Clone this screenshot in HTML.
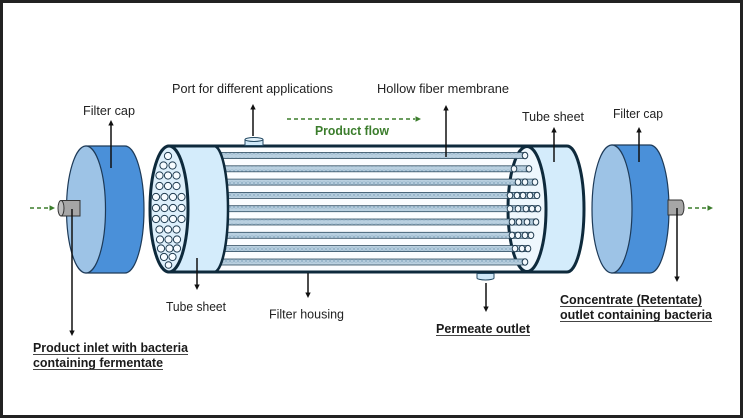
<!DOCTYPE html>
<html>
<head>
<meta charset="utf-8">
<style>
  html,body{margin:0;padding:0;background:#fff;}
  body{width:743px;height:418px;overflow:hidden;}
  svg{display:block;}
  text{font-family:"Liberation Sans",Arial,sans-serif;}
</style>
</head>
<body>
<svg width="743" height="418" viewBox="0 0 743 418" xmlns="http://www.w3.org/2000/svg">
  <defs>
    <pattern id="fib" x="0" y="0" width="4" height="6" patternUnits="userSpaceOnUse">
      <rect width="4" height="6" fill="#b9d0e0"/>
      <path d="M0.5,1.5 L3.5,4.5 M3.5,1.5 L0.5,4.5" stroke="#8eaec4" stroke-width="0.7"/>
    </pattern>
  </defs>

  <!-- frame -->
  <rect x="1.5" y="1.5" width="740" height="415" fill="#fff" stroke="#222" stroke-width="3"/>

  <!-- ===== Left filter cap ===== -->
  <path d="M86,146 L125,146 A19,63.5 0 0 1 125,273 L86,273 Z" fill="#4a90d9" stroke="#1d3a58" stroke-width="1.2"/>
  <ellipse cx="86" cy="209.5" rx="19.5" ry="63.5" fill="#9dc3e6" stroke="#1d3a58" stroke-width="1.2"/>
  <!-- left nozzle -->
  <rect x="61" y="200.5" width="19" height="15.5" fill="#a6a6a6" stroke="#333" stroke-width="1"/>
  <ellipse cx="61" cy="208.2" rx="3" ry="7.7" fill="#bdbdbd" stroke="#333" stroke-width="1"/>

  <!-- ===== Right filter cap ===== -->
  <path d="M612,145 L650,145 A19,64 0 0 1 650,273 L612,273 Z" fill="#4a90d9" stroke="#1d3a58" stroke-width="1.2"/>
  <ellipse cx="612" cy="209" rx="20" ry="64" fill="#9dc3e6" stroke="#1d3a58" stroke-width="1.2"/>
  <!-- right nozzle -->
  <path d="M668,200 L681,200 A3,7.5 0 0 1 681,215 L668,215 Z" fill="#a6a6a6" stroke="#333" stroke-width="1"/>

  <!-- ===== Housing ===== -->
  <path d="M169,146 L567,146 A17,63 0 0 1 567,272 L169,272 Z" fill="#d4ecfb" stroke="#0e2a3c" stroke-width="3"/>
  <!-- fibre area -->
  <rect x="195" y="147.5" width="332" height="123" fill="#fbfdff"/>
  <!-- right tube sheet face -->
  <ellipse cx="527" cy="209" rx="19" ry="62.5" fill="#eef7fd" stroke="#0e2a3c" stroke-width="3"/>

  <!-- fibres -->
  <g stroke="#2f4c60" stroke-width="0.8" fill="url(#fib)">
    <rect x="205" y="152.5" width="320" height="6"/>
    <rect x="205" y="165.8" width="324" height="6"/>
    <rect x="205" y="179.1" width="330" height="6"/>
    <rect x="205" y="192.4" width="332" height="6"/>
    <rect x="205" y="205.7" width="333" height="6"/>
    <rect x="205" y="219" width="331" height="6"/>
    <rect x="205" y="232.3" width="326" height="6"/>
    <rect x="205" y="245.6" width="323" height="6"/>
    <rect x="205" y="259" width="320" height="6"/>
  </g>
  <!-- fibre ends -->
  <g fill="#f2f8fc" stroke="#1e3a4e" stroke-width="1">
    <ellipse cx="525" cy="155.5" rx="2.8" ry="3.2"/>
    <ellipse cx="514" cy="168.8" rx="2.8" ry="3.2"/>
    <ellipse cx="529" cy="168.8" rx="2.8" ry="3.2"/>
    <ellipse cx="518" cy="182.1" rx="2.8" ry="3.2"/>
    <ellipse cx="525" cy="182.1" rx="2.8" ry="3.2"/>
    <ellipse cx="535" cy="182.1" rx="2.8" ry="3.2"/>
    <ellipse cx="510" cy="195.4" rx="2.8" ry="3.2"/>
    <ellipse cx="517" cy="195.4" rx="2.8" ry="3.2"/>
    <ellipse cx="523" cy="195.4" rx="2.8" ry="3.2"/>
    <ellipse cx="530" cy="195.4" rx="2.8" ry="3.2"/>
    <ellipse cx="537" cy="195.4" rx="2.8" ry="3.2"/>
    <ellipse cx="510" cy="208.7" rx="2.8" ry="3.2"/>
    <ellipse cx="518" cy="208.7" rx="2.8" ry="3.2"/>
    <ellipse cx="526" cy="208.7" rx="2.8" ry="3.2"/>
    <ellipse cx="532" cy="208.7" rx="2.8" ry="3.2"/>
    <ellipse cx="538" cy="208.7" rx="2.8" ry="3.2"/>
    <ellipse cx="512" cy="222" rx="2.8" ry="3.2"/>
    <ellipse cx="519" cy="222" rx="2.8" ry="3.2"/>
    <ellipse cx="527" cy="222" rx="2.8" ry="3.2"/>
    <ellipse cx="536" cy="222" rx="2.8" ry="3.2"/>
    <ellipse cx="512" cy="235.3" rx="2.8" ry="3.2"/>
    <ellipse cx="518" cy="235.3" rx="2.8" ry="3.2"/>
    <ellipse cx="525" cy="235.3" rx="2.8" ry="3.2"/>
    <ellipse cx="531" cy="235.3" rx="2.8" ry="3.2"/>
    <ellipse cx="515" cy="248.6" rx="2.8" ry="3.2"/>
    <ellipse cx="522" cy="248.6" rx="2.8" ry="3.2"/>
    <ellipse cx="528" cy="248.6" rx="2.8" ry="3.2"/>
    <ellipse cx="525" cy="262" rx="2.8" ry="3.2"/>
  </g>

  <!-- left tube sheet band -->
  <path d="M169,146 L214,146 A14,63 0 0 1 214,272 L169,272 Z" fill="#d4ecfb" stroke="#0e2a3c" stroke-width="2.5"/>
  <!-- left tube sheet face with holes -->
  <ellipse cx="169" cy="209" rx="19" ry="63" fill="#ddeffb" stroke="#0e2a3c" stroke-width="3"/>
  <g fill="#f6fbff" stroke="#1f3b50" stroke-width="1">
    <circle cx="168" cy="156" r="3.6"/>
    <circle cx="163.5" cy="165.5" r="3.6"/><circle cx="172.5" cy="165.5" r="3.6"/>
    <circle cx="159.5" cy="175.5" r="3.6"/><circle cx="168" cy="175.5" r="3.6"/><circle cx="176.5" cy="175.5" r="3.6"/>
    <circle cx="159.5" cy="186" r="3.6"/><circle cx="168" cy="186" r="3.6"/><circle cx="176.5" cy="186" r="3.6"/>
    <circle cx="156" cy="197" r="3.6"/><circle cx="164.5" cy="197" r="3.6"/><circle cx="173" cy="197" r="3.6"/><circle cx="181.5" cy="197" r="3.6"/>
    <circle cx="156" cy="208" r="3.6"/><circle cx="164.5" cy="208" r="3.6"/><circle cx="173" cy="208" r="3.6"/><circle cx="181.5" cy="208" r="3.6"/>
    <circle cx="156" cy="219" r="3.6"/><circle cx="164.5" cy="219" r="3.6"/><circle cx="173" cy="219" r="3.6"/><circle cx="181.5" cy="219" r="3.6"/>
    <circle cx="159.5" cy="229.5" r="3.6"/><circle cx="168" cy="229.5" r="3.6"/><circle cx="176.5" cy="229.5" r="3.6"/>
    <circle cx="160" cy="239.5" r="3.6"/><circle cx="168.5" cy="239.5" r="3.6"/><circle cx="177" cy="239.5" r="3.6"/>
    <circle cx="161" cy="248.5" r="3.6"/><circle cx="169.5" cy="248.5" r="3.6"/><circle cx="177" cy="248.5" r="3.6"/>
    <circle cx="164" cy="257" r="3.6"/><circle cx="172.5" cy="257" r="3.6"/>
    <circle cx="168.5" cy="265" r="3.3"/>
  </g>

  <!-- housing top/bottom lines redrawn -->
  <line x1="169" y1="146" x2="567" y2="146" stroke="#0e2a3c" stroke-width="3"/>
  <line x1="169" y1="272" x2="567" y2="272" stroke="#0e2a3c" stroke-width="3"/>

  <!-- top port -->
  <rect x="245" y="139.5" width="18" height="6" fill="#cfe8f8" stroke="#244a63" stroke-width="1"/>
  <ellipse cx="254" cy="139.5" rx="9" ry="2" fill="#e3f2fb" stroke="#244a63" stroke-width="1"/>
  <!-- permeate port -->
  <path d="M477,273.5 L494,273.5 L494,278 A8.5,2 0 0 1 477,278 Z" fill="#cfe8f8" stroke="#244a63" stroke-width="1"/>

  <!-- ===== black arrows ===== -->
  <g stroke="#111" stroke-width="1.5">
    <line x1="111" y1="168" x2="111" y2="124"/>
    <line x1="253" y1="136" x2="253" y2="108"/>
    <line x1="446" y1="157" x2="446" y2="109"/>
    <line x1="554" y1="162" x2="554" y2="131"/>
    <line x1="639" y1="162" x2="639" y2="131"/>
    <line x1="72" y1="209" x2="72" y2="332"/>
    <line x1="197" y1="258" x2="197" y2="286"/>
    <line x1="308" y1="273" x2="308" y2="294"/>
    <line x1="486" y1="283" x2="486" y2="308"/>
    <line x1="677" y1="208" x2="677" y2="278"/>
  </g>
  <g fill="#111">
    <polygon points="111,120 108.3,125.5 113.7,125.5"/>
    <polygon points="253,104 250.3,109.5 255.7,109.5"/>
    <polygon points="446,105 443.3,110.5 448.7,110.5"/>
    <polygon points="554,127 551.3,132.5 556.7,132.5"/>
    <polygon points="639,127 636.3,132.5 641.7,132.5"/>
    <polygon points="72,336 69.3,330.5 74.7,330.5"/>
    <polygon points="197,290 194.3,284.5 199.7,284.5"/>
    <polygon points="308,298 305.3,292.5 310.7,292.5"/>
    <polygon points="486,312 483.3,306.5 488.7,306.5"/>
    <polygon points="677,282 674.3,276.5 679.7,276.5"/>
  </g>

  <!-- ===== green dashed flow arrows ===== -->
  <g stroke="#3b7d2c" stroke-width="1.6" stroke-dasharray="4,3" fill="none">
    <line x1="30" y1="208" x2="50" y2="208"/>
    <line x1="688" y1="208" x2="708" y2="208"/>
    <line x1="287" y1="119" x2="415" y2="119"/>
  </g>
  <g fill="#3b7d2c">
    <polygon points="55,208 49.5,205.3 49.5,210.7"/>
    <polygon points="713,208 707.5,205.3 707.5,210.7"/>
    <polygon points="421,119 415.5,116.3 415.5,121.7"/>
  </g>

  <!-- ===== labels ===== -->
  <g fill="#222" font-size="13">
    <text x="83" y="115" textLength="52" lengthAdjust="spacingAndGlyphs">Filter cap</text>
    <text x="172" y="93" textLength="161" lengthAdjust="spacingAndGlyphs">Port for different applications</text>
    <text x="377" y="93" textLength="132" lengthAdjust="spacingAndGlyphs">Hollow fiber membrane</text>
    <text x="522" y="121" textLength="62" lengthAdjust="spacingAndGlyphs">Tube sheet</text>
    <text x="613" y="118" textLength="50" lengthAdjust="spacingAndGlyphs">Filter cap</text>
    <text x="166" y="311" textLength="60" lengthAdjust="spacingAndGlyphs">Tube sheet</text>
    <text x="269" y="318.5" textLength="75" lengthAdjust="spacingAndGlyphs">Filter housing</text>
  </g>
  <text x="315" y="135" font-size="12.5" font-weight="bold" fill="#3b7d2c" textLength="74" lengthAdjust="spacingAndGlyphs">Product flow</text>

  <g fill="#1a1a1a" font-size="12.5" font-weight="bold">
    <text x="436" y="333" textLength="94" lengthAdjust="spacingAndGlyphs">Permeate outlet</text>
    <text x="560" y="304" textLength="142" lengthAdjust="spacingAndGlyphs">Concentrate (Retentate)</text>
    <text x="560" y="319" textLength="152" lengthAdjust="spacingAndGlyphs">outlet containing bacteria</text>
    <text x="33" y="352" textLength="155" lengthAdjust="spacingAndGlyphs">Product inlet with bacteria</text>
    <text x="33" y="367" textLength="130" lengthAdjust="spacingAndGlyphs">containing fermentate</text>
  </g>
  <g stroke="#444" stroke-width="1">
    <line x1="436" y1="335.5" x2="530" y2="335.5"/>
    <line x1="560" y1="306.5" x2="702" y2="306.5"/>
    <line x1="560" y1="321.5" x2="712" y2="321.5"/>
    <line x1="33" y1="354.5" x2="188" y2="354.5"/>
    <line x1="33" y1="369.5" x2="163" y2="369.5"/>
  </g>
</svg>
</body>
</html>
